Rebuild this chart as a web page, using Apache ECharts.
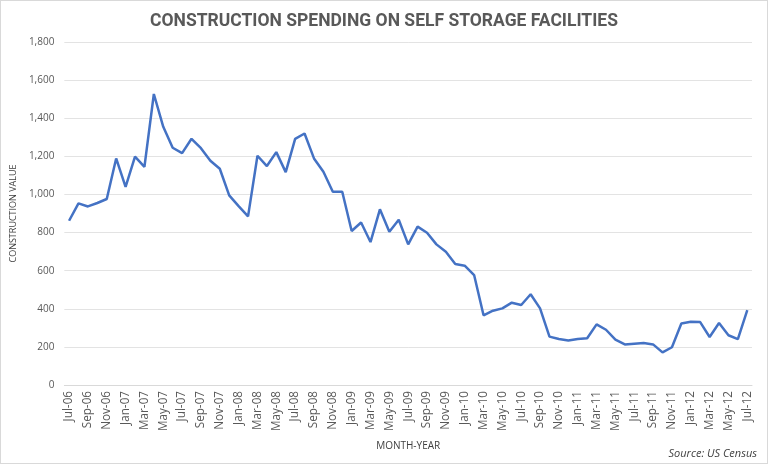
<!DOCTYPE html>
<html><head><meta charset="utf-8">
<script src="https://cdn.jsdelivr.net/npm/echarts@6/dist/echarts.min.js"></script>
<style>html,body{margin:0;padding:0;background:#fff;}#c{width:766px;height:462px;border:1px solid #d9d9d9;}</style>
</head><body><div id="c"></div>
<script>
var months = ['Jul-06','Aug-06','Sep-06','Oct-06','Nov-06','Dec-06',
'Jan-07','Feb-07','Mar-07','Apr-07','May-07','Jun-07','Jul-07','Aug-07','Sep-07','Oct-07','Nov-07','Dec-07',
'Jan-08','Feb-08','Mar-08','Apr-08','May-08','Jun-08','Jul-08','Aug-08','Sep-08','Oct-08','Nov-08','Dec-08',
'Jan-09','Feb-09','Mar-09','Apr-09','May-09','Jun-09','Jul-09','Aug-09','Sep-09','Oct-09','Nov-09','Dec-09',
'Jan-10','Feb-10','Mar-10','Apr-10','May-10','Jun-10','Jul-10','Aug-10','Sep-10','Oct-10','Nov-10','Dec-10',
'Jan-11','Feb-11','Mar-11','Apr-11','May-11','Jun-11','Jul-11','Aug-11','Sep-11','Oct-11','Nov-11','Dec-11',
'Jan-12','Feb-12','Mar-12','Apr-12','May-12','Jun-12','Jul-12'];
var values = [862,953,937,955,976,1189,
1040,1198,1145,1527,1355,1245,1217,1292,1243,1177,1135,995,
939,885,1203,1149,1222,1117,1292,1320,1189,1119,1014,1014,
808,853,750,922,804,867,738,831,799,738,699,635,
626,577,366,390,402,432,420,476,402,254,241,233,
241,245,318,290,238,213,217,220,213,171,198,323,
332,330,252,325,261,241,393];
var titleText = 'CONSTRUCTION SPENDING ON SELF STORAGE FACILITIES';
var yName = 'CONSTRUCTION VALUE';
var xName = 'MONTH-YEAR';
var sourceText = 'Source: US Census';

var chart = echarts.init(document.getElementById('c'));
chart.setOption({
  animation:false,
  title:{text:titleText,left:'center',top:7,textStyle:{fontFamily:'Roboto',fontWeight:'bold',fontSize:17.5,color:'#595959'}},
  graphic:[{type:'text',right:10,bottom:4,style:{text:sourceText,font:'italic 11px "Open Sans"',fill:'#404040'}}],
  grid:{left:61,right:15,top:41,bottom:78},
  xAxis:{type:'category',data:months,boundaryGap:true,
    name:xName,nameLocation:'middle',nameGap:56,nameTextStyle:{fontFamily:'Open Sans',fontSize:10,color:'#404040'},
    axisLine:{lineStyle:{color:'#d9d9d9'}},
    axisTick:{interval:1,length:5,lineStyle:{color:'#d9d9d9'}},
    axisLabel:{interval:1,rotate:90,fontFamily:'Open Sans',fontSize:11.7,color:'#595959',margin:6}},
  yAxis:{type:'value',min:0,max:1800,interval:200,
    name:yName,nameLocation:'middle',nameGap:37,nameTextStyle:{fontFamily:'Open Sans',fontSize:9,color:'#404040'},
    axisLine:{show:false},axisTick:{show:false},
    splitLine:{lineStyle:{color:'#e3e3e3',width:1}},
    axisLabel:{fontFamily:'Open Sans',fontSize:10,color:'#595959',margin:10,
      formatter:function(v){return v.toLocaleString('en-US');}}},
  series:[{type:'line',data:values,symbol:'none',lineStyle:{color:'#4472C4',width:2.5}}]
});
</script></body></html>
